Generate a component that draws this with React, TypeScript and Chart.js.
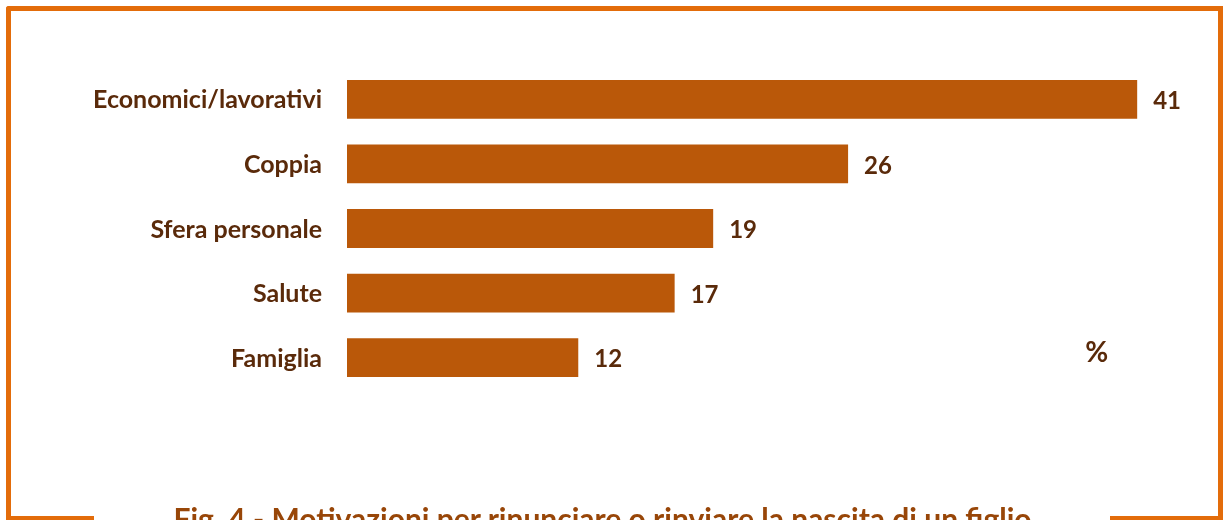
import React, { useEffect, useRef } from "react";
import { Chart, registerables } from "chart.js";

Chart.register(...registerables);

const categories = ["Economici/lavorativi", "Coppia", "Sfera personale", "Salute", "Famiglia"];
const values = [41, 26, 19, 17, 12];
const unitLabel = "%";
const titleText = "Fig. 4 - Motivazioni per rinunciare o rinviare la nascita di un figlio";

const BAR = "#BA5809";
const LABEL = "#5A2A0A";
const TITLE = "#984608";
const FRAME = "#E36C0A";
const FONT = "Lato, 'DejaVu Sans', sans-serif";

const labelPlugin = {
  id: "customLabels",
  afterDatasetsDraw(chart: any) {
    const ctx = chart.ctx;
    const xs = chart.scales.x;
    const ys = chart.scales.y;
    ctx.save();
    ctx.fillStyle = LABEL;
    ctx.textBaseline = "middle";
    categories.forEach((c, i) => {
      const y = ys.getPixelForValue(i);
      ctx.font = `bold 25px ${FONT}`;
      ctx.textAlign = "right";
      ctx.fillText(c, chart.chartArea.left - 25, y + 1);
      ctx.font = `bold 24px ${FONT}`;
      ctx.textAlign = "left";
      ctx.fillText(String(values[i]), xs.getPixelForValue(values[i]) + 16, y + 2);
    });
    ctx.font = `bold 28px ${FONT}`;
    ctx.textAlign = "center";
    ctx.fillText(unitLabel, xs.getPixelForValue(38.9), ys.getPixelForValue(3.93));
    ctx.restore();
  },
};

export default function App() {
  const ref = useRef<HTMLCanvasElement | null>(null);
  useEffect(() => {
    document.body.style.margin = "0";
    const chart = new Chart(ref.current as HTMLCanvasElement, {
      type: "bar",
      data: {
        labels: categories,
        datasets: [
          {
            data: values,
            backgroundColor: BAR,
            borderWidth: 0,
            barPercentage: 0.6,
            categoryPercentage: 1,
          },
        ],
      },
      options: {
        indexAxis: "y",
        animation: false,
        responsive: false,
        maintainAspectRatio: false,
        layout: { padding: { left: 347, right: 28, top: 67, bottom: 130 } },
        scales: {
          x: { display: false, min: 0, max: 44 },
          y: { display: false },
        },
        plugins: { legend: { display: false }, tooltip: { enabled: false }, title: { display: false } },
      },
      plugins: [labelPlugin],
    });
    return () => chart.destroy();
  }, []);

  return (
    <div style={{ position: "relative", width: 1223, height: 520, overflow: "hidden", background: "#fff" }}>
      <canvas ref={ref} width={1223} height={520} style={{ position: "absolute", left: 0, top: 0 }} />
      <div style={{ position: "absolute", left: 6, top: 6, width: 1217, height: 5, background: FRAME, borderTopLeftRadius: 3 }} />
      <div style={{ position: "absolute", left: 6, top: 6, width: 5, height: 514, background: FRAME, borderTopLeftRadius: 3 }} />
      <div style={{ position: "absolute", left: 1218, top: 6, width: 5, height: 514, background: FRAME }} />
      <div style={{ position: "absolute", left: 6, top: 516, width: 88, height: 4, background: FRAME }} />
      <div style={{ position: "absolute", left: 1110, top: 516, width: 113, height: 4, background: FRAME }} />
      <div
        style={{
          position: "absolute",
          left: 0,
          width: 1205,
          top: 500,
          textAlign: "center",
          fontFamily: FONT,
          fontWeight: "bold",
          fontSize: 30,
          color: TITLE,
          whiteSpace: "nowrap",
          lineHeight: "36px",
        }}
      >
        {titleText}
      </div>
    </div>
  );
}
